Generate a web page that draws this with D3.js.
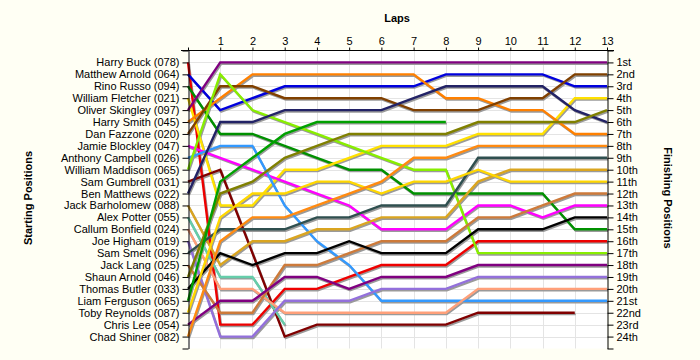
<!DOCTYPE html>
<html>
<head>
<meta charset="utf-8">
<script src="https://cdn.jsdelivr.net/npm/d3@7"></script>
<style>
  html, body { margin: 0; padding: 0; background: #fffff4; }
  svg { display: block; }
  text { font-family: "Liberation Sans", Arial, sans-serif; }
</style>
</head>
<body>
<svg id="chart" width="700" height="360"></svg>
<script>
// ---------- data ----------
const laps = [0, 1, 2, 3, 4, 5, 6, 7, 8, 9, 10, 11, 12, 13];
const lapLabels = ["", "1", "2", "3", "4", "5", "6", "7", "8", "9", "10", "11", "12", "13"];

const drivers = [
  "Harry Buck (078)", "Matthew Arnold (064)", "Rino Russo (094)", "William Fletcher (021)",
  "Oliver Skingley (097)", "Harry Smith (045)", "Dan Fazzone (020)", "Jamie Blockley (047)",
  "Anthony Campbell (026)", "William Maddison (065)", "Sam Gumbrell (031)", "Ben Matthews (022)",
  "Jack Barholomew (088)", "Alex Potter (055)", "Callum Bonfield (024)", "Joe Higham (019)",
  "Sam Smelt (096)", "Jack Lang (025)", "Shaun Arnold (046)", "Thomas Butler (033)",
  "Liam Ferguson (065)", "Toby Reynolds (087)", "Chris Lee (054)", "Chad Shiner (082)"
];

const finishLabels = ["1st","2nd","3rd","4th","5th","6th","7th","8th","9th","10th","11th","12th",
  "13th","14th","15th","16th","17th","18th","19th","20th","21st","22nd","23rd","24th"];

// position per lap (lap 0 = start), one array per driver
const harryBuck       = [1, 23, 23, 20, 20, 19, 18, 18, 18, 16, 16, 16, 16, 16];
const matthewArnold   = [2, 5, 4, 3, 3, 3, 3, 3, 2, 2, 2, 2, 3, 3];
const rinoRusso       = [3, 7, 7, 8, 9, 10, 10, 12, 12, 12, 12, 12, 15, 15];
const williamFletcher = [4, 13, 13, 10, 10, 9, 8, 8, 8, 7, 7, 7, 4, 4];
const oliverSkingley  = [5, 1, 1, 1, 1, 1, 1, 1, 1, 1, 1, 1, 1, 1];
const harrySmith      = [6, 4, 2, 2, 2, 2, 2, 2, 4, 4, 5, 5, 7, 7];
const danFazzone      = [7, 3, 3, 4, 4, 4, 4, 5, 5, 5, 4, 4, 2, 2];
const jamieBlockley   = [8, 9, 10, 11, 12, 13, 15, 15, 15, 13, 13, 14, 13, 13];
const anthonyCampbell = [9, 8, 8, 13, 16, 18, 21, 21, 21, 21, 21, 21, 21, 21];
const williamMaddison = [10, 2, 5, 6, 7, 8, 9, 10, 10, 17, 17, 17, 17, 17];
const samGumbrell     = [11, 10, 17, 24, 23, 23, 23, 23, 23, 22, 22, 22, 22];
const benMatthews     = [12, 6, 6, 5, 5, 5, 5, 4, 3, 3, 3, 3, 5, 6];
const jackBarholomew  = [13, 18, 16, 16, 15, 15, 14, 14, 14, 11, 10, 10, 10, 10];
const alexPotter      = [14, 19, 19, 23];
const callumBonfield  = [15, 20, 20, 22, 22, 22, 22, 22, 22, 20, 20, 20, 20, 20];
const joeHigham       = [16, 24, 24, 21, 21, 21, 20, 20, 20, 19, 19, 19, 19, 19];
const samSmelt        = [17, 15, 15, 15, 14, 14, 13, 13, 13, 9, 9, 9, 9, 9];
const jackLang        = [18, 22, 22, 18, 18, 17, 16, 16, 16, 14, 14, 13, 12, 12];
const shaunArnold     = [19, 12, 11, 9, 8, 7, 7, 7, 7, 6, 6, 6, 6, 5];
const thomasButler    = [20, 17, 18, 17, 17, 16, 17, 17, 17, 15, 15, 15, 14, 14];
const liamFerguson    = [21, 11, 9, 7, 6, 6, 6, 6, 6];
const tobyReynolds    = [22, 14, 12, 12, 11, 11, 12, 11, 11, 10, 11, 11, 11, 11];
const chrisLee        = [23, 21, 21, 19, 19, 20, 19, 19, 19, 18, 18, 18, 18, 18];
const chadShiner      = [24, 16, 14, 14, 13, 12, 11, 9, 9, 8, 8, 8, 8, 8];

const series = [harryBuck, matthewArnold, rinoRusso, williamFletcher, oliverSkingley, harrySmith,
  danFazzone, jamieBlockley, anthonyCampbell, williamMaddison, samGumbrell, benMatthews,
  jackBarholomew, alexPotter, callumBonfield, joeHigham, samSmelt, jackLang, shaunArnold,
  thomasButler, liamFerguson, tobyReynolds, chrisLee, chadShiner];

// ---------- style ----------
const lineColors = ["#ee0000", "#0000dd", "#009000", "#ffe000", "#800080", "#ff8000",
  "#804000", "#ff00ff", "#3399ff", "#88ee00", "#800000", "#222266",
  "#daa520", "#66cdaa", "#ffa07a", "#9370db", "#2f4f4f", "#cd7a3a", "#808000",
  "#000000", "#00a000", "#ffd700", "#800080", "#ff8a10"];

const svg = d3.select("#chart");
const x = d3.scaleLinear().domain([0, 13]).range([188, 607]);
const y = d3.scaleLinear().domain([0, 25]).range([50.5, 348.5]);

// plot background
svg.append("rect").attr("x", x(0)).attr("y", y(0)).attr("width", x(13) - x(0))
  .attr("height", y(25) - y(0)).attr("fill", "#ffffff");

// grid
const grid = svg.append("g").attr("stroke", "#e4e4e4").attr("stroke-width", 1);
grid.selectAll(".vg").data(laps.slice(1, 13)).enter().append("line")
  .attr("x1", d => Math.round(x(d)) + 0.5).attr("x2", d => Math.round(x(d)) + 0.5)
  .attr("y1", y(0)).attr("y2", y(25));
grid.selectAll(".hg").data(d3.range(1, 25)).enter().append("line")
  .attr("x1", x(0)).attr("x2", x(13))
  .attr("y1", d => Math.round(y(d)) + 0.5).attr("y2", d => Math.round(y(d)) + 0.5);

// lines
const line = d3.line().x((d, i) => x(laps[i])).y(d => y(d));
const shadows = svg.append("g").attr("transform", "translate(1,1.5)");
shadows.selectAll("path").data(series).enter().append("path")
  .attr("d", d => line(d)).attr("fill", "none").attr("stroke", "#9a9a9a")
  .attr("stroke-width", 2.2).attr("stroke-linejoin", "miter");
const lines = svg.append("g");
lines.selectAll("path").data(series).enter().append("path")
  .attr("d", d => line(d)).attr("fill", "none")
  .attr("stroke", (d, i) => lineColors[i])
  .attr("stroke-width", 2.4).attr("stroke-linejoin", "miter");

// axes
const posTicks = d3.range(0, 26);
const topAxis = d3.axisTop(x).tickValues(laps).tickFormat((d, i) => lapLabels[i])
  .tickSize(3).tickPadding(3).tickSizeOuter(0);
const gTop = svg.append("g").attr("transform", "translate(0,50.5)").call(topAxis);

const leftAxis = d3.axisLeft(y).tickValues(posTicks)
  .tickFormat(d => (d >= 1 && d <= 24) ? drivers[d - 1] : "")
  .tickSize(6).tickPadding(3).tickSizeOuter(0);
const gLeft = svg.append("g").attr("transform", "translate(188.5,0)").call(leftAxis);

const rightAxis = d3.axisRight(y).tickValues(posTicks)
  .tickFormat(d => (d >= 1 && d <= 24) ? finishLabels[d - 1] : "")
  .tickSize(6).tickPadding(3).tickSizeOuter(0);
const gRight = svg.append("g").attr("transform", "translate(607.5,0)").call(rightAxis);

[gTop, gLeft, gRight].forEach(g => {
  g.selectAll("path.domain").attr("stroke", "#000");
  g.selectAll(".tick line").attr("stroke", "#000");
  g.selectAll("text").attr("fill", "#000").style("font-size", "11px")
    .style("font-family", "'Liberation Sans', Arial, sans-serif");
});
gTop.select("path.domain").attr("d", `M${x(0) - 7},0H${x(13) + 7}`);

// titles
svg.append("text").attr("x", 397).attr("y", 22).attr("text-anchor", "middle")
  .style("font-size", "11px").style("font-weight", "bold").text("Laps");
svg.append("text").attr("transform", "translate(32,198) rotate(-90)")
  .attr("text-anchor", "middle").style("font-size", "11px").style("font-weight", "bold")
  .text("Starting Positions");
svg.append("text").attr("transform", "translate(664,198) rotate(90)")
  .attr("text-anchor", "middle").style("font-size", "11px").style("font-weight", "bold")
  .text("Finishing Positions");
</script>
</body>
</html>
